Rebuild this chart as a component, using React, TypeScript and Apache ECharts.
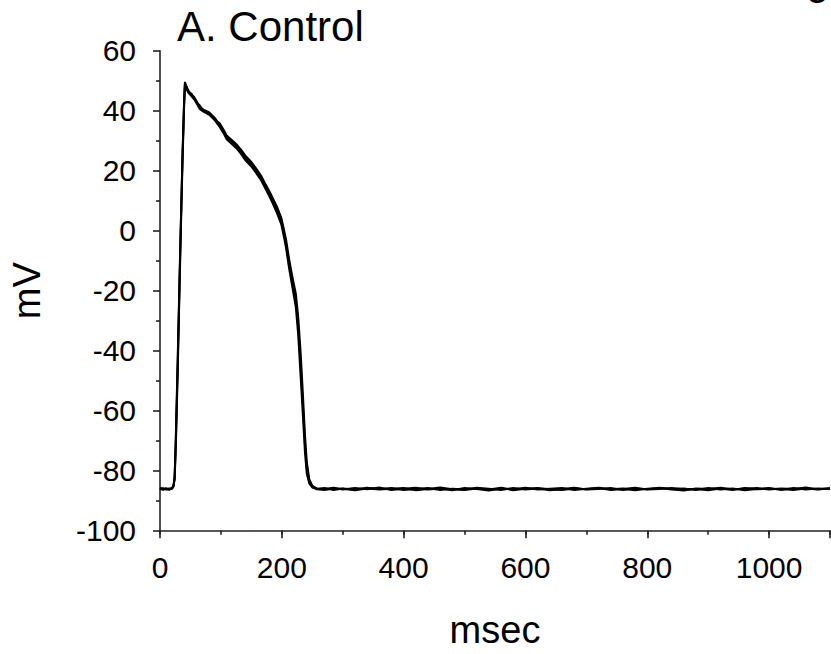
import React, { useEffect, useRef } from "react";
import * as echarts from "echarts";

// time axis (msec) shared by the overlaid traces
const timeMs = [
  0, 5, 10, 15, 20, 22, 24, 26, 29, 32, 34, 37, 39.5, 41, 44, 47, 52, 56, 60, 65,
  72, 81, 90, 98, 104, 109, 117, 125, 133, 141, 150, 158, 166, 174, 180, 185, 192, 199, 203, 207,
  212, 217, 223, 227, 231, 235, 238, 241, 245, 250, 258, 270, 285, 300, 320, 340, 360, 380, 400, 420,
  440, 460, 480, 500, 520, 540, 560, 580, 600, 620, 640, 660, 680, 700, 720, 740, 760, 780, 800, 820,
  840, 860, 880, 900, 920, 940, 960, 980, 1000, 1020, 1040, 1060, 1080, 1100,
];

// membrane potential traces (mV)
const trace1 = [
  -86, -86.4, -85.8, -86.2, -85.6, -85, -82, -70, -45, -18, 0, 25, 42, 49.3, 47.5, 46.6, 45.2, 44.6, 43.2, 41.2,
  40.3, 39.4, 37.6, 35.2, 33.2, 31.2, 29.8, 28.3, 26.4, 24, 22.2, 20, 17.6, 14.4, 12.2, 10, 7, 3.3, -0.4, -4.4,
  -11, -16.5, -23, -32, -45, -60, -71, -79, -83.5, -85.3, -85.9, -86.1, -85.7, -86.3, -85.8, -86.2, -85.6, -86.4, -86, -85.7,
  -86.3, -85.9, -86.5, -85.8, -86.1, -86.6, -85.9, -86.2, -85.7, -86.3, -86, -85.8, -86.4, -86, -85.7, -86.2, -85.9, -86.5, -86, -85.8,
  -86.3, -86.6, -85.9, -86.1, -85.7, -86.2, -86, -85.8, -86.3, -85.9, -86.1, -85.6, -86.2, -86,
];
const trace2 = [
  -85.7, -86.1, -86.3, -85.9, -86, -85.2, -83, -72, -48, -20, -2, 23, 41, 48.8, 48, 46.2, 45.6, 44.1, 42.8, 41.8,
  39.8, 39, 37, 35.8, 33.8, 31.8, 30.4, 28.9, 27, 24.8, 22.9, 20.7, 18.3, 15.2, 13, 10.9, 8, 4.4, 0.8, -3,
  -9.5, -15, -21, -29, -41, -56, -68, -77, -82.8, -85, -86.1, -85.8, -86.4, -85.9, -86.3, -85.7, -86.1, -85.8, -86.4, -86.1,
  -85.8, -86.4, -86, -86.3, -85.7, -86, -86.4, -85.8, -86.3, -85.9, -86.5, -86.1, -85.7, -86.3, -86.1, -85.8, -86.4, -86, -86.2, -85.7,
  -86.1, -85.9, -86.4, -85.8, -86.3, -85.9, -86.5, -86.1, -85.8, -86.4, -85.8, -86.3, -85.9, -86.1,
];
const trace3 = [
  -86.2, -85.8, -86.1, -86.4, -85.8, -85.4, -82.5, -68, -43, -16, 1, 26, 43, 49.6, 47, 45.9, 44.8, 43.8, 42.5, 40.6,
  39.6, 38.6, 36.8, 34.6, 32.6, 30.6, 29.1, 27.6, 25.6, 23.3, 21.4, 19.2, 16.8, 13.6, 11.3, 9.1, 5.9, 2.2, -1.6, -5.8,
  -12.6, -18.5, -25.5, -35, -49, -63, -74, -81, -84.2, -85.6, -86.2, -86.4, -85.9, -86, -86.5, -85.9, -86.3, -86, -85.8, -86.5,
  -86.1, -85.6, -86.2, -86.4, -85.9, -86.3, -85.7, -86.5, -86, -85.8, -86.2, -86.4, -85.9, -86.2, -85.8, -86.4, -86.1, -85.7, -86.3, -86.1,
  -85.8, -86.2, -86.1, -86.5, -85.9, -86.4, -85.8, -86.2, -86, -86.1, -86.4, -85.9, -86.3, -85.8,
];

const xLabelValues = [0, 200, 400, 600, 800, 1000];
const titleText = "A. Control";
const xName = "msec";
const yName = "mV";

const FONT = "'Liberation Sans', Arial, sans-serif";

export default function App() {
  const ref = useRef<HTMLDivElement>(null);

  useEffect(() => {
    if (!ref.current) return;
    const chart = echarts.init(ref.current, null, { renderer: "svg" });
    const traces = [trace1, trace2, trace3];
    chart.setOption({
      animation: false,
      backgroundColor: "#ffffff",
      title: {
        text: titleText,
        left: 177,
        top: 5,
        padding: 0,
        textStyle: { fontSize: 42, fontWeight: "normal", color: "#000", fontFamily: FONT },
      },
      graphic: [
        {
          type: "text",
          x: 806,
          y: 0,
          style: { text: "g", fontSize: 42, fontFamily: FONT, fill: "#000", verticalAlign: "bottom" },
        },
      ],
      grid: { left: 160, right: 1, top: 50.7, bottom: 123.3, outerBoundsMode: "none", containLabel: false },
      xAxis: [
        {
          type: "value",
          min: 0,
          max: 1100,
          interval: 100,
          position: "bottom",
          name: xName,
          nameLocation: "middle",
          nameGap: 80,
          nameTextStyle: { fontSize: 38, color: "#000", fontFamily: FONT },
          axisLine: { show: true, onZero: false, lineStyle: { color: "#222", width: 1.6 } },
          axisTick: { show: true, length: 4, lineStyle: { color: "#222", width: 1.6 } },
          axisLabel: {
            fontSize: 30,
            color: "#000",
            fontFamily: FONT,
            margin: 22,
            formatter: (v: number) => (xLabelValues.includes(v) ? String(v) : ""),
          },
          splitLine: { show: false },
        },
        {
          type: "value",
          min: 0,
          max: 1100,
          interval: 200,
          position: "bottom",
          axisLine: { show: false, onZero: false },
          axisTick: { show: true, length: 7.5, lineStyle: { color: "#222", width: 1.6 } },
          axisLabel: { show: false },
          splitLine: { show: false },
        },
      ],
      yAxis: {
        type: "value",
        min: -100,
        max: 60,
        interval: 20,
        name: yName,
        nameLocation: "middle",
        nameGap: 114,
        nameRotate: 90,
        nameTextStyle: { fontSize: 38, color: "#000", fontFamily: FONT },
        axisLine: { show: true, onZero: false, lineStyle: { color: "#222", width: 1.6 } },
        axisTick: { show: true, length: 7, lineStyle: { color: "#222", width: 1.6 } },
        minorTick: { show: true, splitNumber: 2, length: 4, lineStyle: { color: "#222", width: 1.6 } },
        axisLabel: { fontSize: 30, color: "#000", fontFamily: FONT, margin: 24 },
        splitLine: { show: false },
      },
      series: traces.map((tr, i) => ({
        name: "trace" + (i + 1),
        type: "line",
        xAxisIndex: 0,
        showSymbol: false,
        symbol: "none",
        lineStyle: { color: "#000", width: 2 },
        data: timeMs.map((t, j) => [t, tr[j]]),
      })),
    });
    return () => chart.dispose();
  }, []);

  return (
    <div
      ref={ref}
      style={{ position: "absolute", left: 0, top: 0, width: 831, height: 654, background: "#fff" }}
    />
  );
}
